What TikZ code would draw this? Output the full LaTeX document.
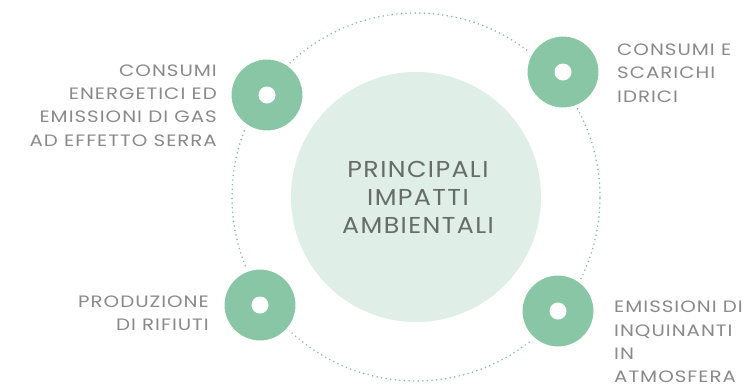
\documentclass[tikz,border=0pt]{standalone}
\usepackage{fontspec}
\setmainfont{Poppins}
\newfontfamily\labelfont{Poppins}[FakeStretch=1.2,LetterSpace=6]
\newfontfamily\titlefont{Poppins}[FakeStretch=1.1,LetterSpace=6]
\definecolor{ringgreen}{HTML}{88C6A5}
\definecolor{coregreen}{HTML}{DFEEE6}
\definecolor{dotgreen}{HTML}{86B8A7}
\definecolor{labelgray}{HTML}{8A8A8A}
\definecolor{titlegray}{HTML}{666B6C}
\tikzset{
  ring/.style={circle, fill=ringgreen, draw=white, line width=3pt, minimum size=74pt, inner sep=0pt,
    path picture={\fill[white] (path picture bounding box.center) circle[radius=8.5pt];}},
  core/.style={circle, fill=coregreen, minimum size=250pt, inner sep=0pt},
  lbl/.style={text=labelgray, font=\labelfont\fontsize{16.5}{23.3}\selectfont, inner sep=0pt},
  ttl/.style={text=titlegray, font=\titlefont\fontsize{23}{28}\selectfont, inner sep=0pt, align=center},
  orbit/.style={draw=dotgreen, line width=1.7pt, line cap=round, dash pattern=on 0pt off 4.6pt}
}
\begin{document}
\begin{tikzpicture}[x=1pt,y=-1pt]
\useasboundingbox (0,0) rectangle (749,384);
\fill[white] (0,0) rectangle (749,384);
\coordinate (ctr) at (416,197);
\draw[orbit] (ctr) circle[radius=184pt];
\node[core] (core) at (ctr) {};
\node[ttl] (title) at (418,197) {PRINCIPALI\\IMPATTI\\AMBIENTALI};
\node[ring] (g1) at (267,95) {};
\node[ring] (g2) at (563,72) {};
\node[ring] (g3) at (260,305) {};
\node[ring] (g4) at (558,311) {};
\node[lbl, anchor=east, align=right] (l1) at (217,105.5) {CONSUMI\\ENERGETICI ED\\EMISSIONI DI GAS\\AD EFFETTO SERRA};
\node[lbl, anchor=west, align=left] (l2) at (617,73) {CONSUMI E\\SCARICHI\\IDRICI};
\node[lbl, anchor=east, align=right] (l3) at (209,313) {PRODUZIONE\\DI RIFIUTI};
\node[lbl, anchor=west, align=left] (l4) at (614,342) {EMISSIONI DI\\INQUINANTI\\IN\\ATMOSFERA};
\end{tikzpicture}
\end{document}
